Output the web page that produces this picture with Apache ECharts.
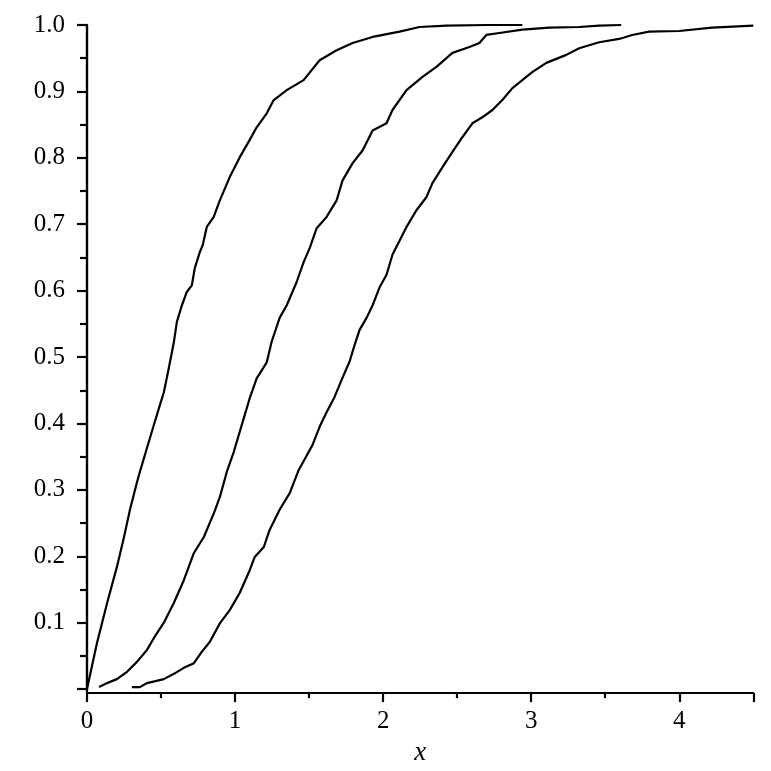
<!DOCTYPE html>
<html>
<head>
<meta charset="utf-8">
<script src="https://cdn.jsdelivr.net/npm/echarts@6/dist/echarts.min.js"></script>
<style>
html,body{margin:0;padding:0;background:#fff;}
#chart{width:771px;height:771px;}
</style>
</head>
<body>
<div id="chart"></div>
<script>
const curve1X = [0, 0.067, 0.135, 0.202, 0.250, 0.290, 0.337, 0.357, 0.405, 0.452, 0.486, 0.519, 0.553, 0.587, 0.607, 0.641, 0.674, 0.708, 0.728, 0.762, 0.782, 0.809, 0.856, 0.897, 0.964, 1.032, 1.099, 1.146, 1.214, 1.261, 1.349, 1.463, 1.571, 1.686, 1.794, 1.929, 2.111, 2.245, 2.428, 2.70, 2.94];
const curve1Y = [0, 0.069, 0.129, 0.184, 0.229, 0.270, 0.311, 0.327, 0.363, 0.398, 0.423, 0.447, 0.484, 0.523, 0.553, 0.578, 0.598, 0.608, 0.634, 0.658, 0.669, 0.696, 0.711, 0.736, 0.771, 0.801, 0.827, 0.846, 0.867, 0.887, 0.902, 0.917, 0.947, 0.962, 0.973, 0.982, 0.990, 0.997, 0.999, 1.0, 1.0];

const curve2X = [0.081, 0.135, 0.202, 0.270, 0.337, 0.405, 0.452, 0.519, 0.587, 0.654, 0.722, 0.789, 0.857, 0.897, 0.944, 0.991, 1.059, 1.099, 1.146, 1.214, 1.247, 1.301, 1.349, 1.416, 1.463, 1.504, 1.551, 1.618, 1.686, 1.726, 1.794, 1.861, 1.929, 2.023, 2.063, 2.158, 2.266, 2.360, 2.468, 2.583, 2.650, 2.697, 2.785, 2.940, 3.122, 3.324, 3.459, 3.608];
const curve2Y = [0.003, 0.009, 0.015, 0.026, 0.041, 0.059, 0.077, 0.100, 0.130, 0.164, 0.205, 0.229, 0.265, 0.289, 0.327, 0.357, 0.408, 0.438, 0.468, 0.492, 0.523, 0.559, 0.578, 0.613, 0.643, 0.664, 0.694, 0.711, 0.736, 0.766, 0.792, 0.811, 0.841, 0.852, 0.872, 0.902, 0.922, 0.937, 0.958, 0.967, 0.973, 0.985, 0.988, 0.993, 0.996, 0.997, 0.999, 1.0];

const curve3X = [0.303, 0.357, 0.405, 0.519, 0.587, 0.654, 0.722, 0.775, 0.829, 0.897, 0.964, 1.032, 1.099, 1.133, 1.194, 1.234, 1.301, 1.369, 1.430, 1.524, 1.571, 1.618, 1.672, 1.726, 1.773, 1.807, 1.841, 1.888, 1.929, 1.976, 2.023, 2.063, 2.097, 2.158, 2.225, 2.293, 2.333, 2.401, 2.468, 2.535, 2.603, 2.670, 2.738, 2.805, 2.873, 2.940, 3.007, 3.102, 3.237, 3.324, 3.459, 3.594, 3.682, 3.796, 3.999, 4.221, 4.50];
const curve3Y = [0.003, 0.003, 0.009, 0.015, 0.023, 0.032, 0.039, 0.056, 0.071, 0.099, 0.119, 0.145, 0.179, 0.199, 0.214, 0.240, 0.270, 0.295, 0.330, 0.368, 0.395, 0.417, 0.440, 0.469, 0.493, 0.518, 0.541, 0.559, 0.578, 0.605, 0.624, 0.654, 0.669, 0.696, 0.721, 0.741, 0.762, 0.786, 0.809, 0.831, 0.852, 0.861, 0.872, 0.887, 0.905, 0.917, 0.929, 0.943, 0.955, 0.965, 0.974, 0.979, 0.985, 0.990, 0.991, 0.996, 0.999];

const xTickLabels = ['0', '1', '2', '3', '4'];
const yTickLabels = ['0.1', '0.2', '0.3', '0.4', '0.5', '0.6', '0.7', '0.8', '0.9', '1.0'];

const zip = (xs, ys) => xs.map((x, i) => [x, ys[i]]);
const FONT = 'Liberation Serif';
const lineStyleAxis = { color: '#000', width: 2.2 };

const chart = echarts.init(document.getElementById('chart'), null, { renderer: 'canvas' });
const seriesStyle = { color: '#000', width: 2.2, join: 'round' };

chart.setOption({
  animation: false,
  backgroundColor: '#fff',
  grid: [
    { left: 87, right: 17.7, top: 25, bottom: 81.9 },
    { left: 87, right: 17.7, top: 25, bottom: 77 }
  ],
  xAxis: [
    { gridIndex: 0, type: 'value', min: 0, max: 4.5, show: false },
    {
      gridIndex: 1, type: 'value', min: 0, max: 4.5, interval: 1,
      axisLine: { show: true, lineStyle: lineStyleAxis },
      axisTick: { show: true, inside: false, length: 9, lineStyle: lineStyleAxis },
      minorTick: { show: true, splitNumber: 2, length: 5, lineStyle: lineStyleAxis },
      splitLine: { show: false },
      axisLabel: {
        show: true, margin: 16, color: '#000', fontFamily: FONT, fontSize: 25,
        formatter: v => { const i = Math.round(v); return (Math.abs(v - i) < 1e-9 && i < xTickLabels.length) ? xTickLabels[i] : ''; }
      },
      name: 'x', nameLocation: 'middle', nameGap: 44,
      nameTextStyle: { color: '#000', fontFamily: FONT, fontSize: 27, fontStyle: 'italic' }
    }
  ],
  yAxis: [
    {
      gridIndex: 0, type: 'value', min: 0, max: 1, interval: 0.1,
      axisLine: { show: true, lineStyle: lineStyleAxis },
      axisTick: { show: true, inside: false, length: 10, lineStyle: lineStyleAxis },
      minorTick: { show: true, splitNumber: 2, length: 7, lineStyle: lineStyleAxis },
      splitLine: { show: false },
      axisLabel: {
        show: true, margin: 22, color: '#000', fontFamily: FONT, fontSize: 25,
        formatter: v => { const i = Math.round(v * 10); return (i >= 1 && i <= 10) ? yTickLabels[i - 1] : ''; }
      }
    },
    {
      gridIndex: 1, type: 'value', min: 0, max: 1,
      axisLine: { show: true, lineStyle: lineStyleAxis },
      axisTick: { show: false }, axisLabel: { show: false }, splitLine: { show: false }
    }
  ],
  series: [
    { type: 'line', xAxisIndex: 0, yAxisIndex: 0, data: zip(curve1X, curve1Y), showSymbol: false, lineStyle: seriesStyle, clip: false },
    { type: 'line', xAxisIndex: 0, yAxisIndex: 0, data: zip(curve2X, curve2Y), showSymbol: false, lineStyle: seriesStyle, clip: false },
    { type: 'line', xAxisIndex: 0, yAxisIndex: 0, data: zip(curve3X, curve3Y), showSymbol: false, lineStyle: seriesStyle, clip: false }
  ]
});
</script>
</body>
</html>
